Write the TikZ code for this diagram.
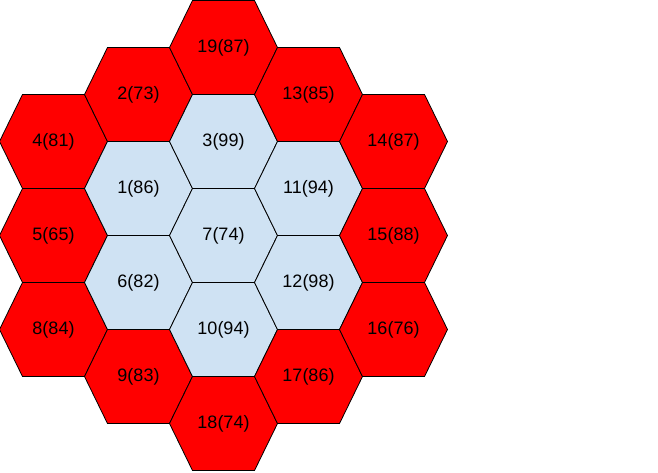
\documentclass[tikz,border=0pt]{standalone}
\usepackage{fontspec}
\setmainfont{Liberation Sans}
\definecolor{hexred}{HTML}{FF0000}
\definecolor{hexblue}{HTML}{CFE2F3}
\tikzset{
  cell/.style={draw=black, line width=0.8pt, line join=miter},
  outer/.style={cell, fill=hexred},
  inner/.style={cell, fill=hexblue},
  celltext/.style={font=\fontsize{18}{20}\selectfont, text=black}
}
\begin{document}
\begin{tikzpicture}[x=1pt,y=-1pt]
\useasboundingbox (0,0) rectangle (658,472);

% one hexagon per cell: x / y / name / label / style
\foreach \x/\y/\n/\t/\s in {
  53.5/141.5/h4/4(81)/outer, 53.5/235.5/h5/5(65)/outer, 53.5/329.5/h8/8(84)/outer,
  138.5/94.5/h2/2(73)/outer, 138.5/188.5/h1/1(86)/inner, 138.5/282.5/h6/6(82)/inner, 138.5/376.5/h9/9(83)/outer,
  223.5/47.5/h19/19(87)/outer, 223.5/141.5/h3/3(99)/inner, 223.5/235.5/h7/7(74)/inner,
  223.5/329.5/h10/10(94)/inner, 223.5/423.5/h18/18(74)/outer,
  308.5/94.5/h13/13(85)/outer, 308.5/188.5/h11/11(94)/inner, 308.5/282.5/h12/12(98)/inner, 308.5/376.5/h17/17(86)/outer,
  393.5/141.5/h14/14(87)/outer, 393.5/235.5/h15/15(88)/outer, 393.5/329.5/h16/16(76)/outer}
{
  \draw[\s] (\x,\y) ++(-54,0) -- ++(23,-47) -- ++(62,0) -- ++(23,47)
    -- ++(-23,47) -- ++(-62,0) -- cycle;
  \node[celltext] (\n) at (\x,\y) {\t};
}

\end{tikzpicture}
\end{document}
